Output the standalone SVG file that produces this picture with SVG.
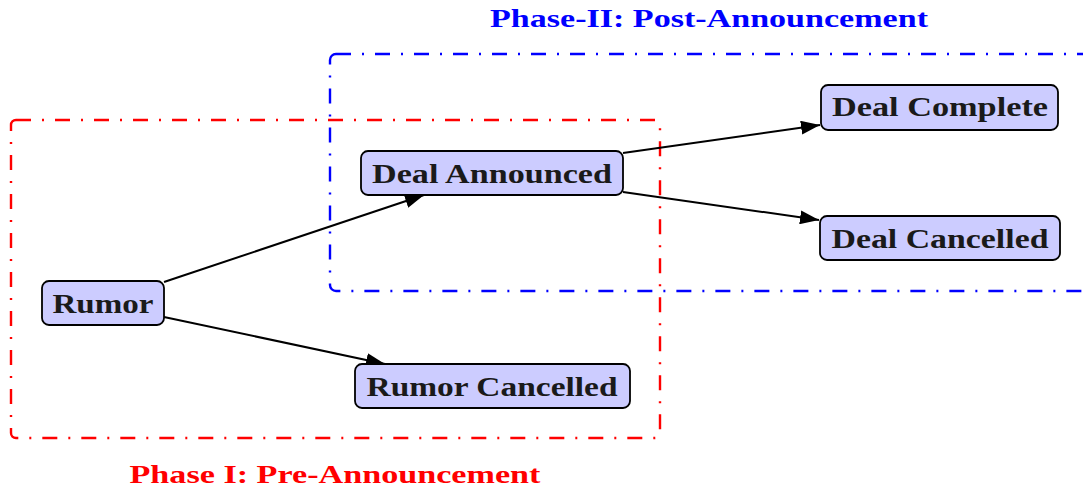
<svg xmlns="http://www.w3.org/2000/svg" width="1083" height="488" viewBox="0 0 1083 488">
<style>
.node rect{fill:#ccccff;stroke:#000;stroke-width:1.8}
.node text,.lbl{font-family:"Liberation Serif",serif;font-weight:bold;text-anchor:middle}
.node text{font-size:27px;fill:#1a1a1a}
.lbl{font-size:26px}
.phase{fill:none;stroke-width:2.4;stroke-dasharray:15 11 2 11}
.edge{stroke:#000;stroke-width:2;fill:none;marker-end:url(#ah)}
</style>
<defs>
<marker id="ah" markerWidth="19" markerHeight="14" refX="19" refY="7" orient="auto" markerUnits="userSpaceOnUse">
<path d="M0,0 L19,7 L0,14 z" fill="#000"/>
</marker>
</defs>
<g id="phase2">
<rect class="phase" x="330" y="54" width="770" height="237" rx="6" stroke="#0000ff"/>
<text class="lbl" x="709" y="27" fill="#0000ff" textLength="438" lengthAdjust="spacingAndGlyphs">Phase-II: Post-Announcement</text>
</g>
<g id="phase1">
<rect class="phase" x="11" y="120" width="649" height="318" rx="5" stroke="#ff0000"/>
<text class="lbl" x="335" y="483" fill="#ff0000" textLength="411" lengthAdjust="spacingAndGlyphs">Phase I: Pre-Announcement</text>
</g>
<g id="connectors">
<line class="edge" x1="164" y1="282" x2="424" y2="195"/>
<line class="edge" x1="164" y1="317" x2="385" y2="364"/>
<line class="edge" x1="623" y1="153" x2="820" y2="125"/>
<line class="edge" x1="623" y1="192" x2="819" y2="220"/>
</g>
<g id="rumor" class="node">
<rect x="42" y="281" width="122" height="44" rx="7"/>
<text x="103" y="313" textLength="101" lengthAdjust="spacingAndGlyphs">Rumor</text>
</g>
<g id="deal-announced" class="node">
<rect x="361" y="151" width="262" height="44" rx="7"/>
<text x="492" y="183" textLength="240" lengthAdjust="spacingAndGlyphs">Deal Announced</text>
</g>
<g id="deal-complete" class="node">
<rect x="821" y="85" width="237" height="45" rx="7"/>
<text x="940" y="116" textLength="216" lengthAdjust="spacingAndGlyphs">Deal Complete</text>
</g>
<g id="deal-cancelled" class="node">
<rect x="820" y="216" width="240" height="44" rx="7"/>
<text x="940" y="248" textLength="217" lengthAdjust="spacingAndGlyphs">Deal Cancelled</text>
</g>
<g id="rumor-cancelled" class="node">
<rect x="355" y="364" width="275" height="44" rx="7"/>
<text x="492" y="396" textLength="251" lengthAdjust="spacingAndGlyphs">Rumor Cancelled</text>
</g>
</svg>
